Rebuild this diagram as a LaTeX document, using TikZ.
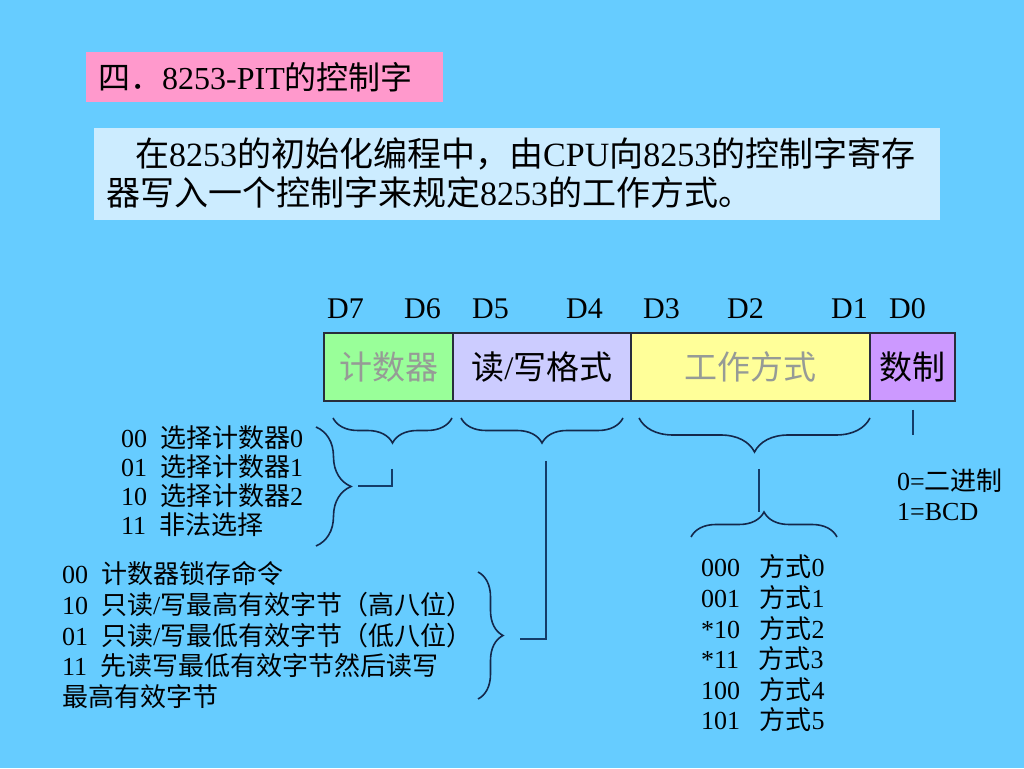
\documentclass[tikz,border=0pt]{standalone}
\usepackage{fontspec}
\setmainfont{Liberation Serif}
\newfontfamily\cjk{Noto Sans CJK SC}
\usetikzlibrary{decorations.pathreplacing}
\newcommand\zh[1]{{\cjk #1}}
\definecolor{bgc}{RGB}{102,204,255}
\definecolor{titlec}{RGB}{255,153,204}
\definecolor{introc}{RGB}{204,236,255}
\definecolor{greenc}{RGB}{153,255,153}
\definecolor{lavc}{RGB}{204,204,255}
\definecolor{yelc}{RGB}{255,255,153}
\definecolor{purc}{RGB}{204,153,255}
\definecolor{boxline}{RGB}{40,45,60}
\definecolor{linec}{RGB}{20,40,75}
\definecolor{connc}{RGB}{20,60,105}
\definecolor{grayt}{RGB}{150,155,150}
\begin{document}
\begin{tikzpicture}[x=1pt,y=1pt,
  lbl/.style={anchor=base west, inner sep=0pt, font=\fontsize{26}{30}\selectfont},
  dlbl/.style={anchor=base west, inner sep=0pt, font=\fontsize{30}{34}\selectfont},
  field/.style={draw=boxline, line width=1.2pt, minimum height=68pt, inner sep=0pt, outer sep=0pt,
    anchor=south west, font=\fontsize{33}{36}\selectfont},
  brc/.style={draw=linec, line width=1.6pt, decorate, decoration={brace,amplitude=#1}},
  conn/.style={draw=connc, line width=1.6pt}]
\useasboundingbox (0,0) rectangle (1024,768);
\fill[bgc] (0,0) rectangle (1024,768);
% title
\fill[titlec] (86,666) rectangle (443,716);
\node[anchor=base west, inner sep=0pt, font=\fontsize{32}{36}\selectfont] (title) at (98,678)
  {\zh{四．}8253-PIT\zh{的控制字}};
% intro
\fill[introc] (94,548) rectangle (940,640);
\node[anchor=base west, inner sep=0pt, font=\fontsize{34}{38}\selectfont] (intro1) at (135,601)
  {\zh{在}8253\zh{的初始化编程中，由}CPU\zh{向}8253\zh{的控制字寄存}};
\node[anchor=base west, inner sep=0pt, font=\fontsize{34}{38}\selectfont] (intro2) at (106,562)
  {\zh{器写入一个控制字来规定}8253\zh{的工作方式。}};
% bit labels
\node[dlbl] (d7) at (327,449) {D7};
\node[dlbl] (d6) at (404,449) {D6};
\node[dlbl] (d5) at (472,449) {D5};
\node[dlbl] (d4) at (566,449) {D4};
\node[dlbl] (d3) at (643,449) {D3};
\node[dlbl] (d2) at (727,449) {D2};
\node[dlbl] (d1) at (831,449) {D1};
\node[dlbl] (d0) at (889,449) {D0};
% fields
\node[field, fill=greenc, minimum width=129pt, text=grayt] (f1) at (324,367) {\zh{计数器}};
\node[field, fill=lavc, minimum width=178pt] (f2) at (453,367) {\zh{读}/\zh{写格式}};
\node[field, fill=yelc, minimum width=239pt, text=grayt] (f3) at (631,367) {\zh{工作方式}};
\node[field, fill=purc, minimum width=85pt] (f4) at (870,367) {\zh{数制}};
% brace coordinates
\coordinate (b1r) at (452,350); \coordinate (b1l) at (333,350);
\coordinate (b2r) at (623,350); \coordinate (b2l) at (461,350);
\coordinate (b3r) at (870,350); \coordinate (b3l) at (639,350);
\coordinate (bLt) at (316,341); \coordinate (bLb) at (316,222);
\coordinate (bMt) at (478,196); \coordinate (bMb) at (478,69);
\coordinate (bUl) at (691,231); \coordinate (bUr) at (837,231);
\draw[brc=25pt] (b1r) -- (b1l);
\draw[brc=25pt] (b2r) -- (b2l);
\draw[brc=34pt] (b3r) -- (b3l);
\draw[brc=35pt] (bLt) -- (bLb);
\draw[brc=25pt] (bMt) -- (bMb);
\draw[brc=25pt] (bUl) -- (bUr);
% connectors
\coordinate (c1a) at (392,299); \coordinate (c1b) at (358,282);
\coordinate (c2a) at (546,307); \coordinate (c2b) at (520,129);
\coordinate (c3a) at (759,299); \coordinate (c3b) at (759,256);
\coordinate (c4a) at (913,358); \coordinate (c4b) at (913,333);
\draw[conn] (c1a) |- (c1b);
\draw[conn] (c2a) |- (c2b);
\draw[conn] (c3a) -- (c3b);
\draw[conn] (c4a) -- (c4b);
% list 1
\node[lbl] (s0) at (121,320) {00~~\zh{选择计数器}0};
\node[lbl] (s1) at (121,291) {01~~\zh{选择计数器}1};
\node[lbl] (s2) at (121,262) {10~~\zh{选择计数器}2};
\node[lbl] (s3) at (121,233) {11~~\zh{非法选择}};
% list 2
\node[lbl] (r0) at (62,184) {00~~\zh{计数器锁存命令}};
\node[lbl] (r1) at (62,153.5) {10~~\zh{只读}/\zh{写最高有效字节（高八位）}};
\node[lbl] (r2) at (62,123) {01~~\zh{只读}/\zh{写最低有效字节（低八位）}};
\node[lbl] (r3) at (62,92.5) {11~~\zh{先读写最低有效字节然后读写}};
\node[lbl] (r4) at (62,62) {\zh{最高有效字节}};
% list 3
\node[lbl] (m0) at (701,191) {000~~~\zh{方式}0};
\node[lbl] (m1) at (701,160.5) {001~~~\zh{方式}1};
\node[lbl] (m2) at (701,130) {*10~~~\zh{方式}2};
\node[lbl] (m3) at (701,99.5) {*11~~~\zh{方式}3};
\node[lbl] (m4) at (701,69) {100~~~\zh{方式}4};
\node[lbl] (m5) at (701,38.5) {101~~~\zh{方式}5};
% number base
\node[lbl] (n0) at (897,277) {0=\zh{二进制}};
\node[lbl] (n1) at (897,247) {1=BCD};
\end{tikzpicture}
\end{document}
